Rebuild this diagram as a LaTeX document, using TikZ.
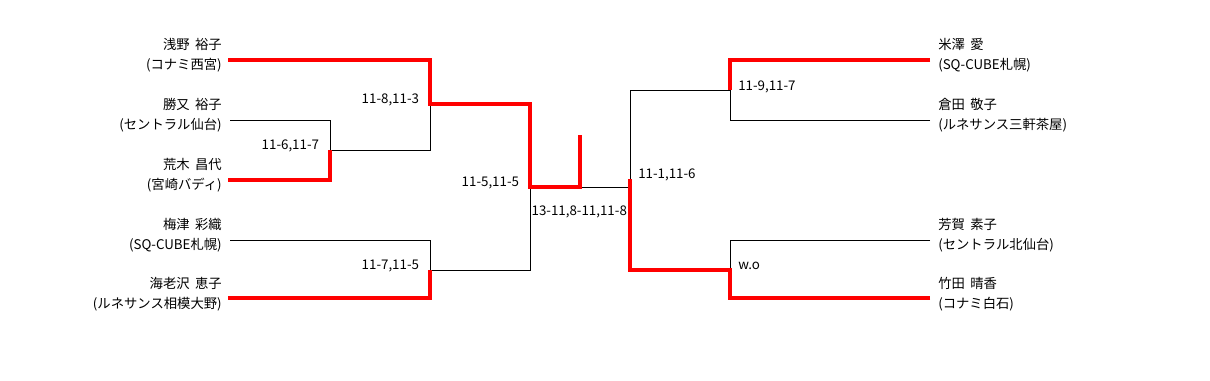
\documentclass[tikz,border=0pt]{standalone}
\usepackage{fontspec}
\setmainfont[WordSpace=1.8]{Noto Sans CJK JP}
\usetikzlibrary{positioning}
\tikzset{
  lost/.style={draw=black, line width=0.75pt},
  won/.style={draw=red, line width=3pt},
  player/.style={font=\fontsize{10}{15}\selectfont, inner sep=0pt},
  score/.style={font=\fontsize{10}{12}\selectfont, inner sep=1pt},
}

\begin{document}
\begin{tikzpicture}[x=0.75pt, y=-0.75pt]
  \useasboundingbox (0,0) rectangle (1210,380);

  % players
  \foreach \i/\y/\who/\club in {
    1/55/浅野 裕子/コナミ西宮,
    2/115/勝又 裕子/セントラル仙台,
    3/175/荒木 昌代/宮崎バディ,
    4/235/梅津 彩織/SQ-CUBE札幌,
    5/294/海老沢 恵子/ルネサンス相模大野}
    \node[player, anchor=east, align=right] (n\i) at (222,\y) {\who\\(\club)};
  \foreach \i/\y/\who/\club in {
    6/55/米澤 愛/SQ-CUBE札幌,
    7/115/倉田 敬子/ルネサンス三軒茶屋,
    8/235/芳賀 素子/セントラル北仙台,
    9/294/竹田 晴香/コナミ白石}
    \node[player, anchor=west, align=left] (n\i) at (938,\y) {\who\\(\club)};

  \coordinate (p1) at (228,60);
  \coordinate (p2) at (230,120);
  \coordinate (p3) at (228,180);
  \coordinate (p4) at (230,240);
  \coordinate (p5) at (228,298);
  \coordinate (p6) at (930,60);
  \coordinate (p7) at (930,120);
  \coordinate (p8) at (930,240);
  \coordinate (p9) at (930,298);

  \coordinate (m1) at (330,150);
  \coordinate (m2) at (430,104);
  \coordinate (m3) at (430,270);
  \coordinate (m4) at (730,90);
  \coordinate (m5) at (730,270);
  \coordinate (s1) at (530,187);
  \coordinate (s2) at (630,179);
  \coordinate (f) at (580,187);
  \coordinate (top) at (580,135);

  % losers
  \draw[lost] (p2) -- (p2 -| m1) -- (m1);
  \draw[lost] (m1) -- (m1 -| m2) -- (m2);
  \draw[lost] (p4) -- (p4 -| m3) -- (m3);
  \draw[lost] (m3) -- (m3 -| s1) -- (s1);
  \draw[lost] (f) -- (s1 -| s2);
  \draw[lost] (m4) -- (m4 -| s2) -- (s2);
  \draw[lost] (p7) -- (p7 -| m4) -- (m4);
  \draw[lost] (p8) -- (p8 -| m5) -- (m5);

  % winners
  \draw[won] (p1) -- (p1 -| m2) -- (m2) -- (m2 -| s1) -- (s1) -- (f) -- (top);
  \draw[won] (p3) -- (p3 -| m1) -- (m1);
  \draw[won] (p5) -- (p5 -| m3) -- (m3);
  \draw[won] (p6) -- (p6 -| m4) -- (m4);
  \draw[won] (p9) -- (p9 -| m5) -- (m5) -- (m5 -| s2) -- (s2);

  % scores
  \node[score, left=7pt of m1, yshift=3pt] (r1) {11-6,11-7};
  \node[score, left=7pt of m2, yshift=3pt] (r2) {11-8,11-3};
  \node[score, left=7pt of m3, yshift=3pt] (r3) {11-7,11-5};
  \node[score, left=7pt of s1, yshift=3pt] (r4) {11-5,11-5};
  \node[score, right=5pt of m4, yshift=2pt] (r5) {11-9,11-7};
  \node[score, right=5pt of m5, yshift=3pt] (r6) {w.o};
  \node[score, right=5pt of s2, yshift=3pt] (r7) {11-1,11-6};
  \node[score, below right=13pt and 0pt of s1] (r8) {13-11,8-11,11-8};

\end{tikzpicture}
\end{document}
